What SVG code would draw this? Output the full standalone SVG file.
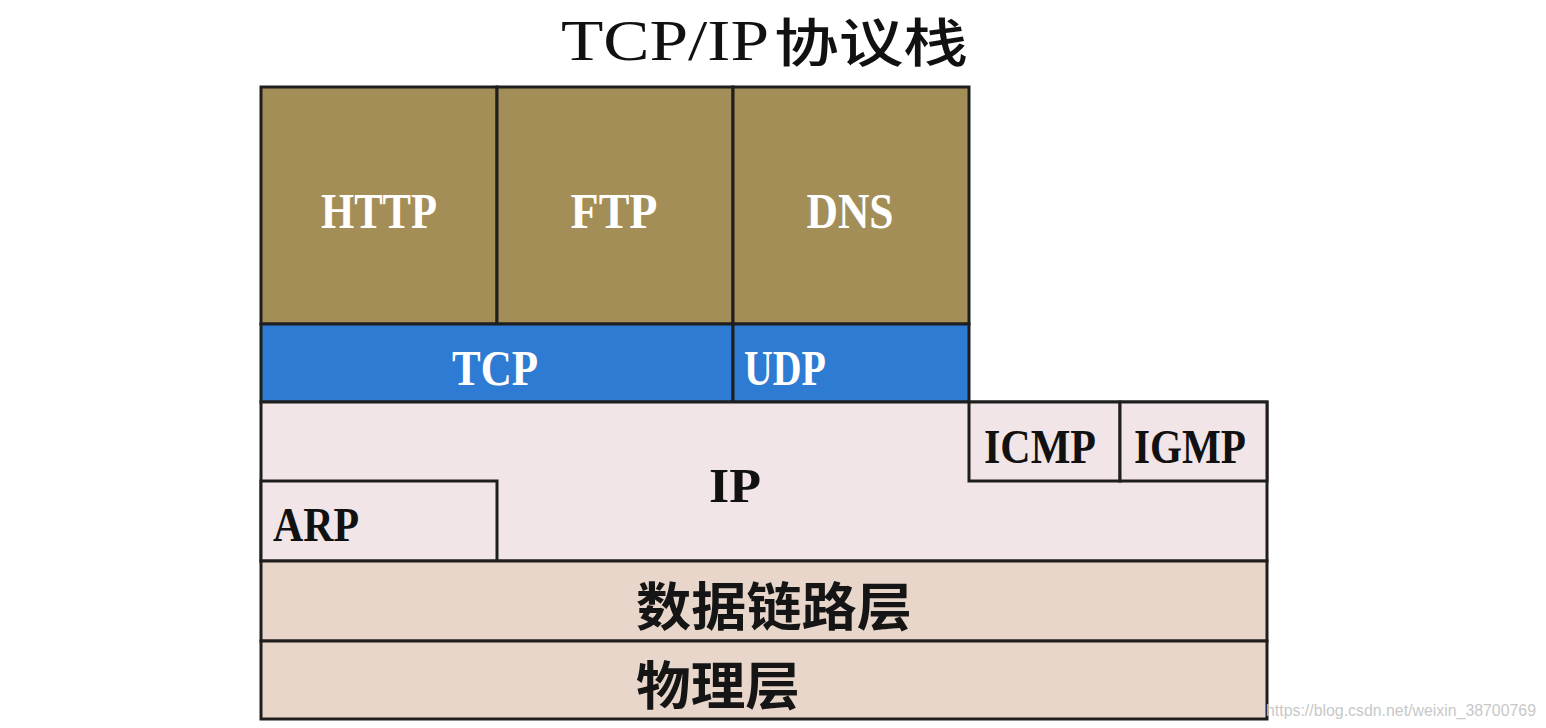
<svg xmlns="http://www.w3.org/2000/svg" width="1546" height="728" viewBox="0 0 1546 728">
<style>
.box{stroke:#1e1e1e;stroke-width:3}
.app{fill:#a48e57}
.tr{fill:#2e7bd3}
.ip{fill:#f1e5e7}
.dl{fill:#e9d6ca}
.lat{font-family:"Liberation Serif","DejaVu Serif",serif;font-weight:bold}
.w{fill:#ffffff}
.k{fill:#111111}
.cjk{font-family:"Noto Sans CJK SC","Noto Sans CJK JP",sans-serif;font-weight:bold;fill:#151515}
</style>
<rect width="1546" height="728" fill="#ffffff"/>
<g id="title">
<text x="561" y="60" font-family="Liberation Serif, serif" font-size="58" fill="#111111" textLength="208" lengthAdjust="spacingAndGlyphs">TCP/IP</text>
<text x="774" y="62" font-family="Noto Sans CJK SC, sans-serif" font-size="52" font-weight="500" fill="#111111" textLength="194" lengthAdjust="spacingAndGlyphs">协议栈</text>
</g>
<g id="http">
<rect x="261" y="87" width="236" height="237" class="box app"/>
<text x="379" y="228" class="lat w" font-size="50" text-anchor="middle" textLength="116" lengthAdjust="spacingAndGlyphs">HTTP</text>
</g>
<g id="ftp">
<rect x="497" y="87" width="236" height="237" class="box app"/>
<text x="614" y="228" class="lat w" font-size="50" text-anchor="middle" textLength="87" lengthAdjust="spacingAndGlyphs">FTP</text>
</g>
<g id="dns">
<rect x="733" y="87" width="236" height="237" class="box app"/>
<text x="850" y="228" class="lat w" font-size="50" text-anchor="middle" textLength="87" lengthAdjust="spacingAndGlyphs">DNS</text>
</g>
<g id="tcp">
<rect x="261" y="324" width="472" height="78" class="box tr"/>
<text x="495" y="385" class="lat w" font-size="50" text-anchor="middle" textLength="86" lengthAdjust="spacingAndGlyphs">TCP</text>
</g>
<g id="udp">
<rect x="733" y="324" width="236" height="78" class="box tr"/>
<text x="744" y="385" class="lat w" font-size="50" textLength="82" lengthAdjust="spacingAndGlyphs">UDP</text>
</g>
<g id="ip">
<rect x="261" y="402" width="1006" height="159" class="box ip"/>
<text x="735" y="502" class="lat k" font-size="48" text-anchor="middle" textLength="52" lengthAdjust="spacingAndGlyphs">IP</text>
</g>
<g id="icmp">
<rect x="969" y="402" width="151" height="79" class="box ip"/>
<text x="1040" y="463" class="lat k" font-size="48" text-anchor="middle" textLength="112" lengthAdjust="spacingAndGlyphs">ICMP</text>
</g>
<g id="igmp">
<rect x="1120" y="402" width="147" height="79" class="box ip"/>
<text x="1190" y="463" class="lat k" font-size="48" text-anchor="middle" textLength="112" lengthAdjust="spacingAndGlyphs">IGMP</text>
</g>
<g id="arp">
<rect x="261" y="481" width="236" height="80" class="box ip"/>
<text x="273" y="541" class="lat k" font-size="48" textLength="86" lengthAdjust="spacingAndGlyphs">ARP</text>
</g>
<g id="datalink">
<rect x="261" y="561" width="1006" height="80" class="box dl"/>
<text x="774" y="626" class="cjk" font-size="52" text-anchor="middle" textLength="276" lengthAdjust="spacingAndGlyphs">数据链路层</text>
</g>
<g id="physical">
<rect x="261" y="641" width="1006" height="78" class="box dl"/>
<text x="718" y="705" class="cjk" font-size="52" text-anchor="middle" textLength="164" lengthAdjust="spacingAndGlyphs">物理层</text>
</g>
<g id="watermark">
<text x="1266" y="716" font-family="Liberation Sans, sans-serif" font-size="16" fill="#c8c8c8" textLength="270" lengthAdjust="spacingAndGlyphs">https://blog.csdn.net/weixin_38700769</text>
</g>
</svg>
